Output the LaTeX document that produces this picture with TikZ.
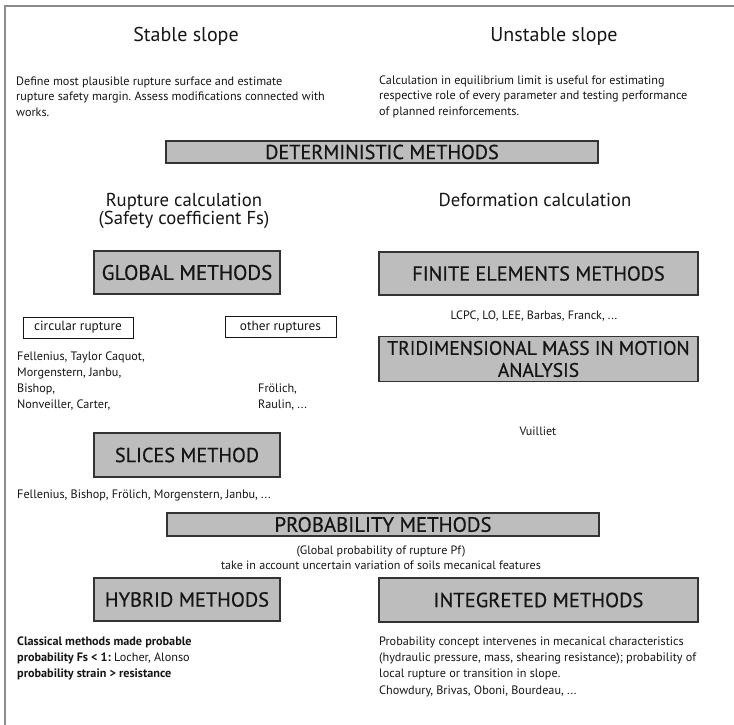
\documentclass[tikz,border=0pt]{standalone}
\usepackage{fontspec}
\setmainfont{PT Sans}
\newfontfamily\boxfont{PT Sans}[FakeBold=0.5]
\frenchspacing
\definecolor{ink}{HTML}{151515}
\definecolor{boxfill}{HTML}{BDBDBD}
\definecolor{boxline}{HTML}{333333}
\definecolor{framec}{HTML}{8C8C8C}
\newcommand{\fs}[2]{\fontsize{#1}{#2}\selectfont}
\begin{document}
\begin{tikzpicture}[x=1pt,y=-1pt,
  method/.style={draw=boxline, fill=boxfill, line width=1.3pt, inner sep=0pt, text=ink, align=center},
  tag/.style={draw=ink, line width=0.9pt, inner sep=0pt, minimum height=21pt, text=ink, font=\fs{13.3}{15}},
  title/.style={font=\fs{20}{24}, text=ink, inner sep=0pt, anchor=base},
  subtitle/.style={font=\fs{18.7}{22}, text=ink, inner sep=0pt, anchor=base},
  note/.style={font=\fs{12.2}{16}, text=ink, align=left, inner sep=0pt, anchor=base west},
  cnote/.style={font=\fs{12.1}{15}, text=ink, align=center, inner sep=0pt, anchor=base}]
\useasboundingbox (0,0) rectangle (734,725);
% outer frame (top and left edges)
\draw[framec, line width=2pt] (5,725) -- (5,6) -- (734,6);

% column headings (anchors of multi-line notes sit on their last line)
\node[title] (stable) at (186,42) {Stable slope};
\node[title] (unstable) at (554,42) {Unstable slope};
\node[note, font=\fs{12.2}{15.5}] (stabletxt) at (16,116) {Define most plausible rupture surface and estimate\\rupture safety margin. Assess modifications connected with\\works.};
\node[note, font=\fs{12.2}{15.5}] (unstabletxt) at (379,115) {Calculation in equilibrium limit is useful for estimating\\respective role of every parameter and testing performance\\of planned reinforcements.};

% deterministic methods
\node[method, font=\boxfont\fs{20.2}{20}, minimum width=432pt, minimum height=22pt] (det) at (382,152) {DETERMINISTIC METHODS};

\node[subtitle] (rupt) at (184,206) {Rupture calculation};
\node[subtitle] (safety) at (184,224) {(Safety coefficient Fs)};
\node[subtitle] (deform) at (535,206) {Deformation calculation};

\node[method, font=\boxfont\fs{21}{20}, minimum width=186pt, minimum height=43pt] (global) at (187,272.5) {GLOBAL METHODS};
\node[method, font=\boxfont\fs{20.2}{20}, minimum width=319pt, minimum height=43pt] (fem) at (538.5,273.5) {FINITE ELEMENTS METHODS};
\node[cnote] (femref) at (534,319) {LCPC, LO, LEE, Barbas, Franck, ...};
\node[method, font=\boxfont\fs{19.5}{22}, minimum width=319pt, minimum height=45pt] (tri) at (538.5,359) {TRIDIMENSIONAL MASS IN MOTION\\ANALYSIS};
\node[cnote] (triref) at (538,435) {Vuilliet};

\node[tag, minimum width=110pt] (circ) at (78,327.5) {circular rupture};
\node[tag, minimum width=111pt] (other) at (280.5,327) {other ruptures};
\node[note] (circref) at (17,408) {Fellenius, Taylor Caquot,\\Morgenstern, Janbu,\\Bishop,\\Nonveiller, Carter,};
\node[note] (otherref) at (258,408) {Frölich,\\Raulin, ...};

\node[method, font=\boxfont\fs{20.2}{20}, minimum width=186pt, minimum height=44pt] (slices) at (187,455) {SLICES METHOD};
\node[note] (slicesref) at (17,498.5) {Fellenius, Bishop, Frölich, Morgenstern, Janbu, ...};

% probability methods
\node[method, font=\boxfont\fs{20.8}{20}, minimum width=432pt, minimum height=23pt] (prob) at (383,524.5) {PROBABILITY METHODS};
\node[cnote] (probtxt) at (381,569) {(Global probability of rupture Pf)\\take in account uncertain variation of soils mecanical features};

\node[method, font=\boxfont\fs{20.4}{20}, minimum width=186pt, minimum height=43pt] (hybrid) at (187,599.5) {HYBRID METHODS};
\node[method, font=\boxfont\fs{20.5}{20}, minimum width=319pt, minimum height=44pt] (integ) at (538.5,600) {INTEGRETED METHODS};
\node[note] (hybridtxt) at (17,677) {\textbf{Classical methods made probable}\\\textbf{probability Fs < 1:} Locher, Alonso\\\textbf{probability strain > resistance}};
\node[note, font=\fs{12.2}{16.3}] (integtxt) at (379,694) {Probability concept intervenes in mecanical characteristics\\(hydraulic pressure, mass, shearing resistance); probability of\\local rupture or transition in slope.\\Chowdury, Brivas, Oboni, Bourdeau, ...};
\end{tikzpicture}
\end{document}
